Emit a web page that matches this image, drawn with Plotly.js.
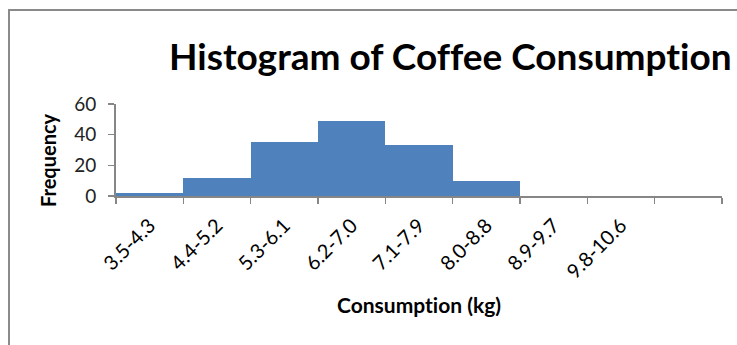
<!DOCTYPE html>
<html>
<head>
<meta charset="utf-8">
<script src="https://cdn.plot.ly/plotly-3.0.1.min.js"></script>
<style>
  html, body { margin: 0; padding: 0; background: #ffffff; }
  #frame { position: absolute; left: 0; top: 0; width: 737px; height: 345px; }
  #border { position: absolute; left: 8px; top: 9px; width: 740px; height: 400px;
            border-left: 2px solid #8a8a8a; border-top: 2px solid #8a8a8a; pointer-events: none; }
  #chart { position: absolute; left: 0; top: 0; width: 737px; height: 345px; }
  #chart text { font-variant-ligatures: none; font-feature-settings: "liga" 0, "clig" 0; }
</style>
</head>
<body>
<div id="frame">
  <div id="chart"></div>
  <div id="border"></div>
</div>
<script>
// Data
const bins = ["3.5-4.3", "4.4-5.2", "5.3-6.1", "6.2-7.0", "7.1-7.9", "8.0-8.8", "8.9-9.7", "9.8-10.6", " "];
const frequency = [2, 12, 35, 49, 33, 10, 0, 0, 0];
const yTicks = [0, 20, 40, 60];

const titleText = "Histogram of Coffee Consumption";
const xTitle = "Consumption (kg)";
const yTitle = "Frequency";

const FONT = "Lato, 'Open Sans', sans-serif";
const axisColor = "#868686";

const trace = {
  type: "bar",
  x: bins,
  y: frequency,
  marker: { color: "#4F81BD", line: { width: 0 } },
  hoverinfo: "x+y"
};

const layout = {
  width: 737,
  height: 345,
  margin: { l: 116, r: 15, t: 104, b: 149 },
  paper_bgcolor: "#ffffff",
  plot_bgcolor: "#ffffff",
  showlegend: false,
  bargap: 0,
  title: {
    text: "<b>" + titleText + "</b>",
    font: { family: FONT, size: 37, color: "#000000" },
    xref: "container", x: 0.611, xanchor: "center",
    yref: "container", y: 0.835, yanchor: "middle"
  },
  xaxis: {
    type: "category",
    categoryorder: "array",
    categoryarray: bins,
    tickson: "boundaries",
    ticks: "outside",
    ticklen: 6,
    tickwidth: 1.5,
    tickcolor: axisColor,
    showline: true,
    linecolor: axisColor,
    linewidth: 2,
    showgrid: false,
    zeroline: false,
    tickangle: -45,
    ticklabelstandoff: 8,
    tickfont: { family: FONT, size: 20, color: "#000000" },
    title: {
      text: "<b>" + xTitle + "</b>",
      font: { family: FONT, size: 21, color: "#000000" },
      standoff: 16
    }
  },
  yaxis: {
    range: [0, 60],
    tickvals: yTicks,
    ticktext: yTicks.map(String),
    ticks: "outside",
    ticklen: 6,
    tickwidth: 1.5,
    tickcolor: axisColor,
    showline: true,
    linecolor: axisColor,
    linewidth: 2,
    showgrid: false,
    zeroline: false,
    ticklabelstandoff: 8,
    tickfont: { family: FONT, size: 19, color: "#222222" }
  },
  annotations: [{
    text: "<b>" + yTitle + "</b>",
    textangle: -90,
    font: { family: FONT, size: 20, color: "#000000" },
    xref: "paper", yref: "paper",
    x: (48 - 116) / 606, y: (196 - 160) / 92,
    xanchor: "center", yanchor: "middle",
    showarrow: false
  }]
};

Plotly.newPlot("chart", [trace], layout, { displayModeBar: false, staticPlot: true });
</script>
</body>
</html>
